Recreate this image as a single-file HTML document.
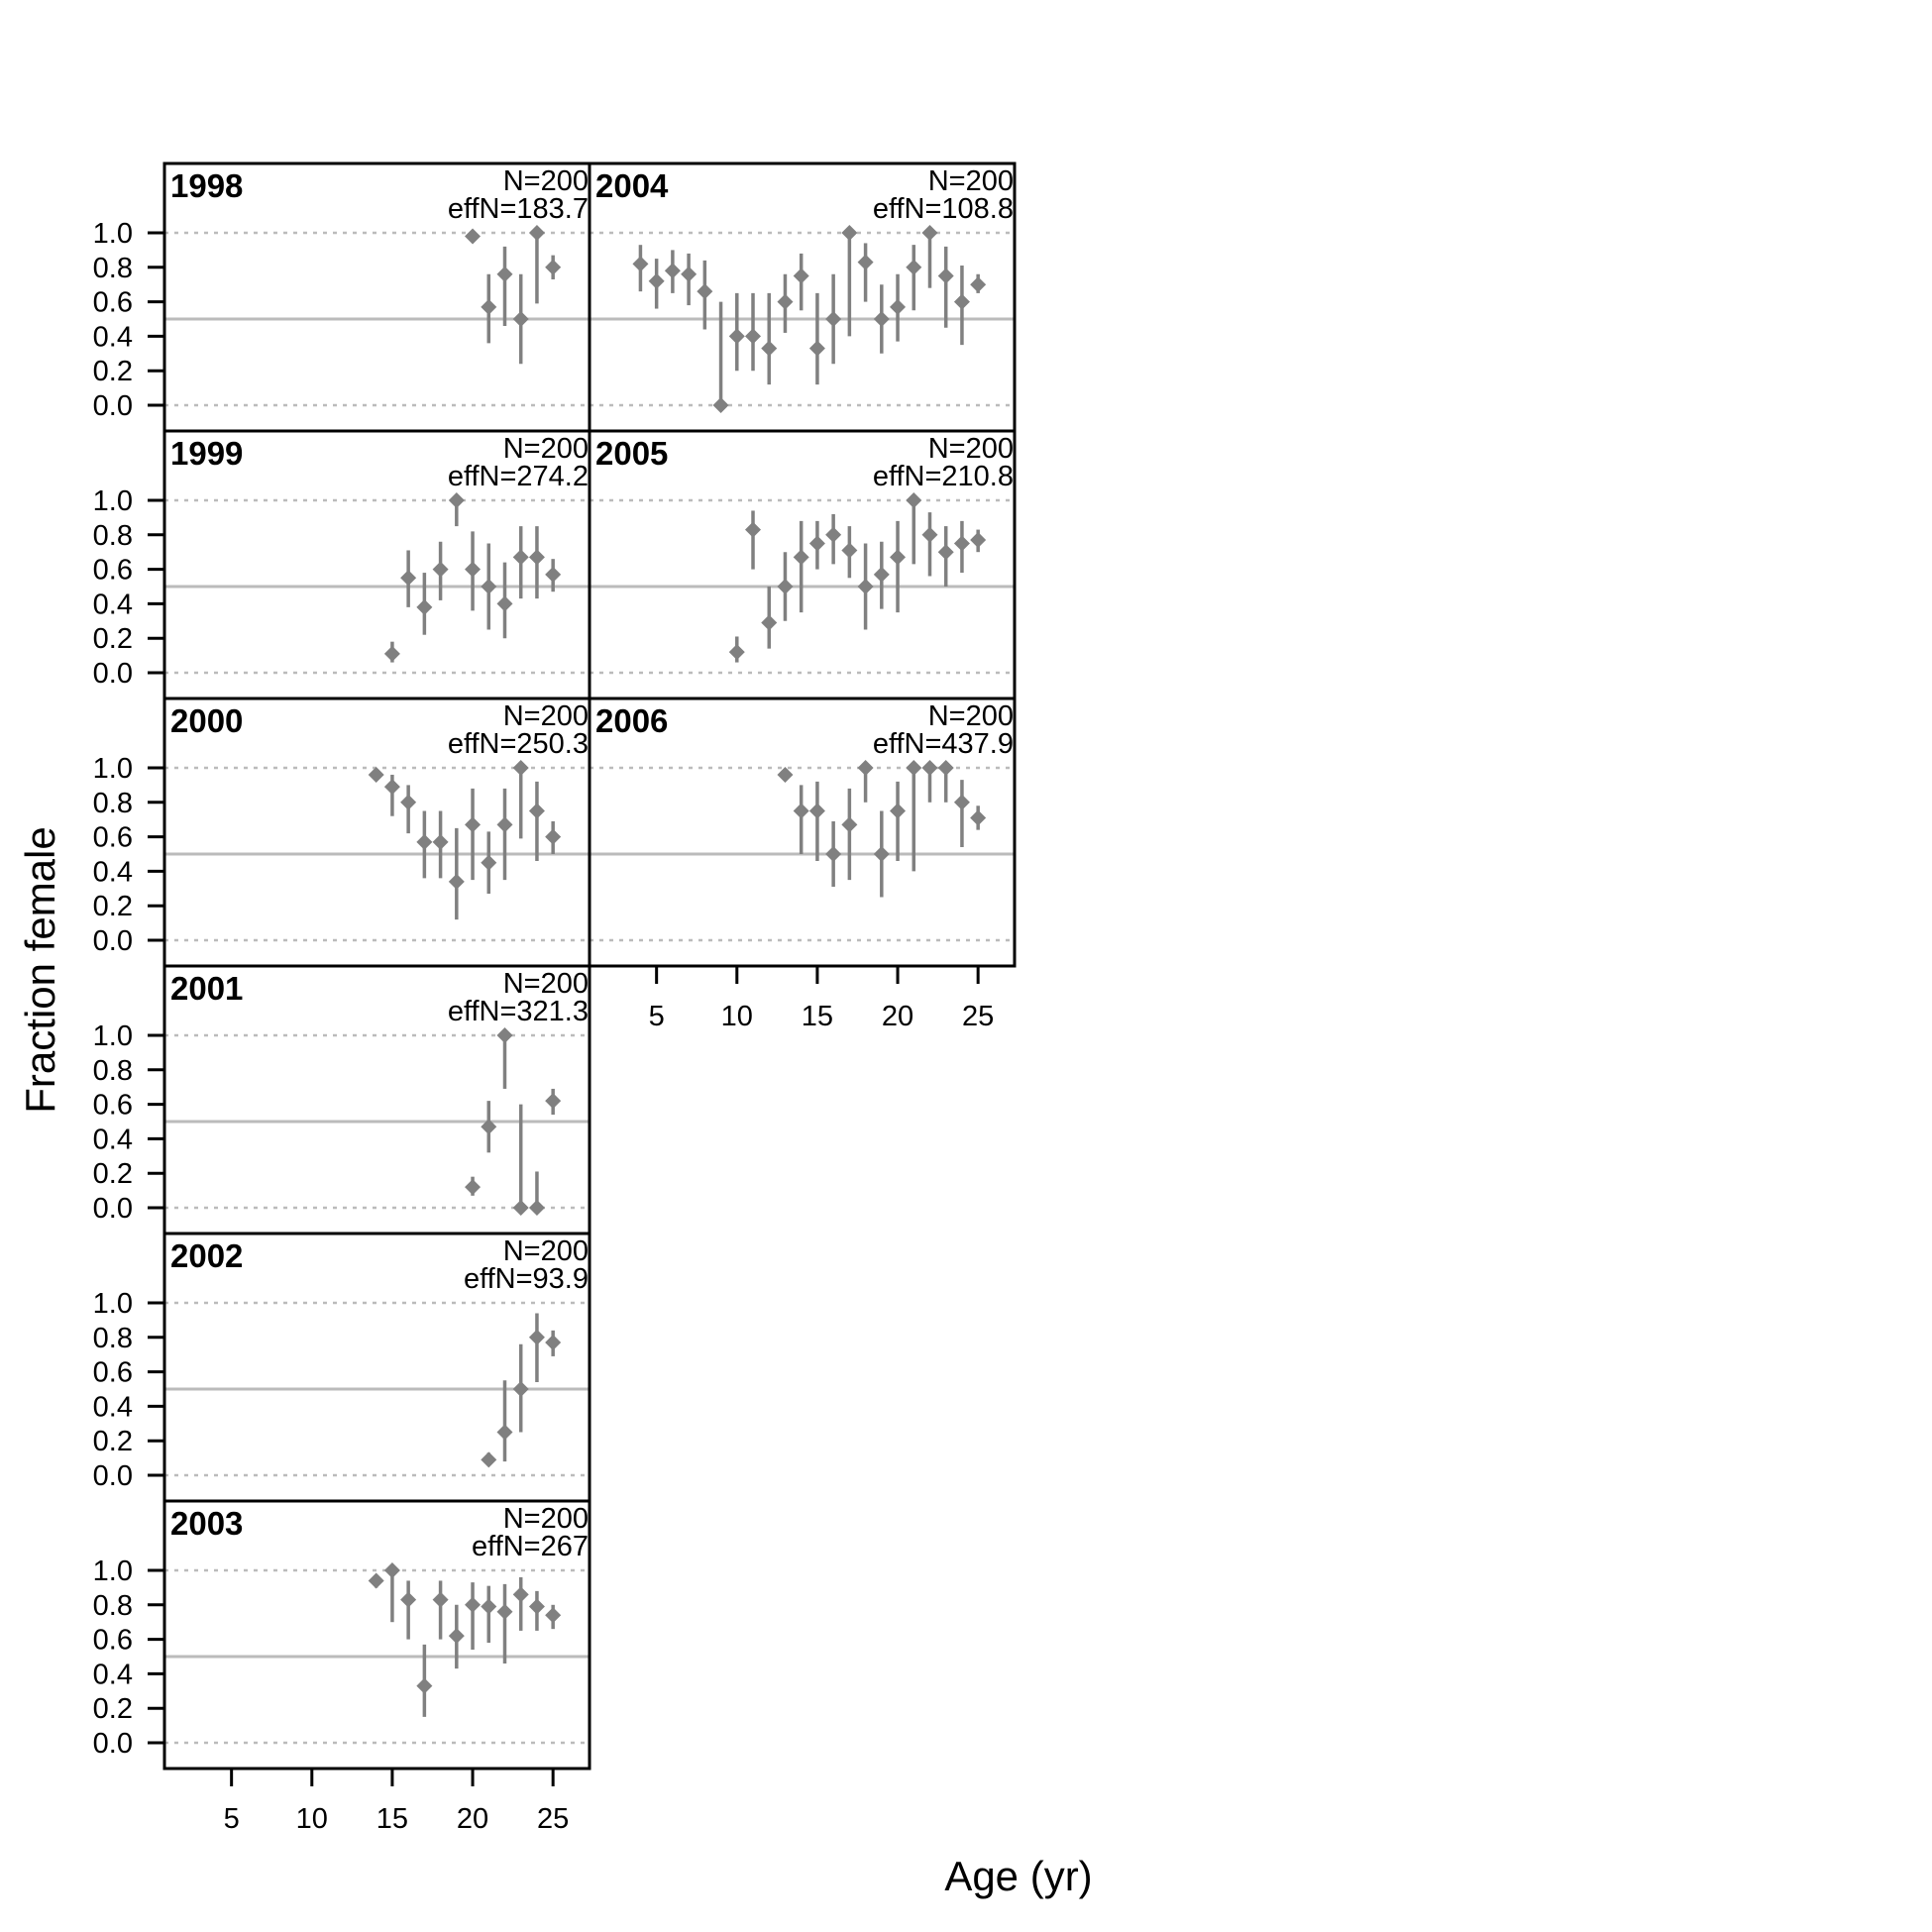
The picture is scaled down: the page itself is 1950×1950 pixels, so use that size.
<!DOCTYPE html>
<html><head><meta charset="utf-8"><style>
html,body{margin:0;padding:0;background:#fff}
svg{display:block;font-family:"Liberation Sans",Arial,sans-serif}
</style></head><body>
<svg id="chart" width="1950" height="1950" viewBox="0 0 1950 1950" xmlns="http://www.w3.org/2000/svg"></svg>
<script>
const years = ['1998','1999','2000','2001','2002','2003','2004','2005','2006'];
const effN = ['183.7','274.2','250.3','321.3','93.9','267','108.8','210.8','437.9'];
const ages = [
 [20,21,22,23,24,25],
 [15,16,17,18,19,20,21,22,23,24,25],
 [14,15,16,17,18,19,20,21,22,23,24,25],
 [20,21,22,23,24,25],
 [21,22,23,24,25],
 [14,15,16,17,18,19,20,21,22,23,24,25],
 [4,5,6,7,8,9,10,11,12,13,14,15,16,17,18,19,20,21,22,23,24,25],
 [10,11,12,13,14,15,16,17,18,19,20,21,22,23,24,25],
 [13,14,15,16,17,18,19,20,21,22,23,24,25]
];
const vals = [
 [0.98,0.57,0.76,0.5,1.0,0.8],
 [0.11,0.55,0.38,0.6,1.0,0.6,0.5,0.4,0.67,0.67,0.57],
 [0.96,0.89,0.8,0.57,0.57,0.34,0.67,0.45,0.67,1.0,0.75,0.6],
 [0.12,0.47,1.0,0.0,0.0,0.62],
 [0.09,0.25,0.5,0.8,0.77],
 [0.94,1.0,0.83,0.33,0.83,0.62,0.8,0.79,0.76,0.86,0.79,0.74],
 [0.82,0.72,0.78,0.76,0.66,0.0,0.4,0.4,0.33,0.6,0.75,0.33,0.5,1.0,0.83,0.5,0.57,0.8,1.0,0.75,0.6,0.7],
 [0.12,0.83,0.29,0.5,0.67,0.75,0.8,0.71,0.5,0.57,0.67,1.0,0.8,0.7,0.75,0.77],
 [0.96,0.75,0.75,0.5,0.67,1.0,0.5,0.75,1.0,1.0,1.0,0.8,0.71]
];
const lows = [
 [0.97,0.36,0.46,0.24,0.59,0.73],
 [0.06,0.38,0.22,0.42,0.85,0.36,0.25,0.2,0.43,0.43,0.47],
 [0.94,0.72,0.62,0.36,0.36,0.12,0.35,0.27,0.35,0.59,0.46,0.5],
 [0.07,0.32,0.69,0,0,0.54],
 [0.06,0.08,0.25,0.54,0.69],
 [0.9,0.7,0.6,0.15,0.6,0.43,0.54,0.58,0.46,0.65,0.65,0.66],
 [0.66,0.56,0.65,0.58,0.44,0,0.2,0.2,0.12,0.42,0.55,0.12,0.24,0.4,0.6,0.3,0.37,0.55,0.68,0.45,0.35,0.65],
 [0.06,0.6,0.14,0.3,0.35,0.6,0.63,0.55,0.25,0.37,0.35,0.63,0.56,0.5,0.58,0.7],
 [0.94,0.5,0.46,0.31,0.35,0.8,0.25,0.46,0.4,0.8,0.8,0.54,0.64]
];
const highs = [
 [0.99,0.76,0.92,0.76,1.0,0.87],
 [0.18,0.71,0.58,0.76,1.0,0.82,0.75,0.64,0.85,0.85,0.66],
 [0.98,0.96,0.9,0.75,0.75,0.65,0.88,0.63,0.88,1.0,0.92,0.69],
 [0.18,0.62,1.0,0.6,0.21,0.69],
 [0.13,0.55,0.76,0.94,0.84],
 [0.97,1.0,0.94,0.57,0.94,0.8,0.93,0.91,0.92,0.96,0.88,0.8],
 [0.93,0.85,0.9,0.88,0.84,0.6,0.65,0.65,0.65,0.76,0.88,0.65,0.76,1.0,0.94,0.7,0.76,0.93,1.0,0.92,0.81,0.76],
 [0.21,0.94,0.5,0.7,0.88,0.88,0.92,0.85,0.75,0.76,0.88,1.0,0.93,0.85,0.88,0.83],
 [0.98,0.9,0.92,0.69,0.88,1.0,0.75,0.92,1.0,1.0,1.0,0.93,0.78]
];
const yTicks = [0,0.2,0.4,0.6,0.8,1.0];
const xTicks = [5,10,15,20,25];

const svg = document.getElementById('chart');
const NS = 'http://www.w3.org/2000/svg';
function mk(tag, attrs, parent){const e=document.createElementNS(NS,tag);for(const k in attrs)e.setAttribute(k,attrs[k]);(parent||svg).appendChild(e);return e;}
const PW=429, PH=270, X0=166, Y0=165;
const AGE_MIN=0.83, AGE_MAX=27.27;
function panelPos(i){return i<6?{col:0,row:i}:{col:1,row:i-6};}

years.forEach((yr,i)=>{
  const p=panelPos(i);
  const left=X0+p.col*PW, top=Y0+p.row*PH;
  const xs=a=>left+(a-AGE_MIN)/(AGE_MAX-AGE_MIN)*PW;
  const ys=v=>top+244-v*174;
  const g=mk('g',{});
  
  
  let l=mk('line',{x1:left,x2:left+PW,y1:ys(1),y2:ys(1),stroke:'#bbb','stroke-width':2.5,'stroke-dasharray':'4,6'},g);
  
  l=mk('line',{x1:left,x2:left+PW,y1:ys(0),y2:ys(0),stroke:'#bbb','stroke-width':2.5,'stroke-dasharray':'4,6'},g);
  
  l=mk('line',{x1:left,x2:left+PW,y1:ys(0.5),y2:ys(0.5),stroke:'#bbb','stroke-width':3},g);
  
  ages[i].forEach((a,j)=>{
    const x=xs(a);
    const b=mk('line',{x1:x,x2:x,y1:ys(lows[i][j]),y2:ys(highs[i][j]),stroke:'#808080','stroke-width':3.5},g);
    
    const y=ys(vals[i][j]);
    const d=mk('polygon',{points:`${x},${y-8} ${x+8},${y} ${x},${y+8} ${x-8},${y}`,fill:'#808080'},g);
    
  });
  const r=mk('rect',{x:left,y:top,width:PW,height:PH,fill:'none',stroke:'#000','stroke-width':3},g);
  
  let t=mk('text',{x:left+6,y:top+34,'font-size':33,'font-weight':'bold'},g);t.textContent=yr;
  
  t=mk('text',{x:left+PW-1,y:top+27,'font-size':29,'text-anchor':'end'},g);t.textContent='N=200';
  
  t=mk('text',{x:left+PW-1,y:top+55,'font-size':29,'text-anchor':'end'},g);t.textContent='effN='+effN[i];
  
  if(p.col===0){
    yTicks.forEach(v=>{
      const tk=mk('line',{x1:left-17,x2:left,y1:ys(v),y2:ys(v),stroke:'#000','stroke-width':3},g);
      
      const tl=mk('text',{x:left-32,y:ys(v)+10,'font-size':29,'text-anchor':'end'},g);tl.textContent=v.toFixed(1);
      
    });
  }
  if(i===5||i===8){
    xTicks.forEach(a=>{
      const tk=mk('line',{x1:xs(a),x2:xs(a),y1:top+PH,y2:top+PH+18,stroke:'#000','stroke-width':3},g);
      
      const tl=mk('text',{x:xs(a),y:top+PH+60,'font-size':29,'text-anchor':'middle'},g);tl.textContent=a;
      
    });
  }
});
let t=mk('text',{x:1028,y:1908,'font-size':42,'text-anchor':'middle'});t.textContent='Age (yr)';

t=mk('text',{x:55,y:979,'font-size':42,'text-anchor':'middle',transform:'rotate(-90 55 979)'});t.textContent='Fraction female';

</script>
</body></html>
